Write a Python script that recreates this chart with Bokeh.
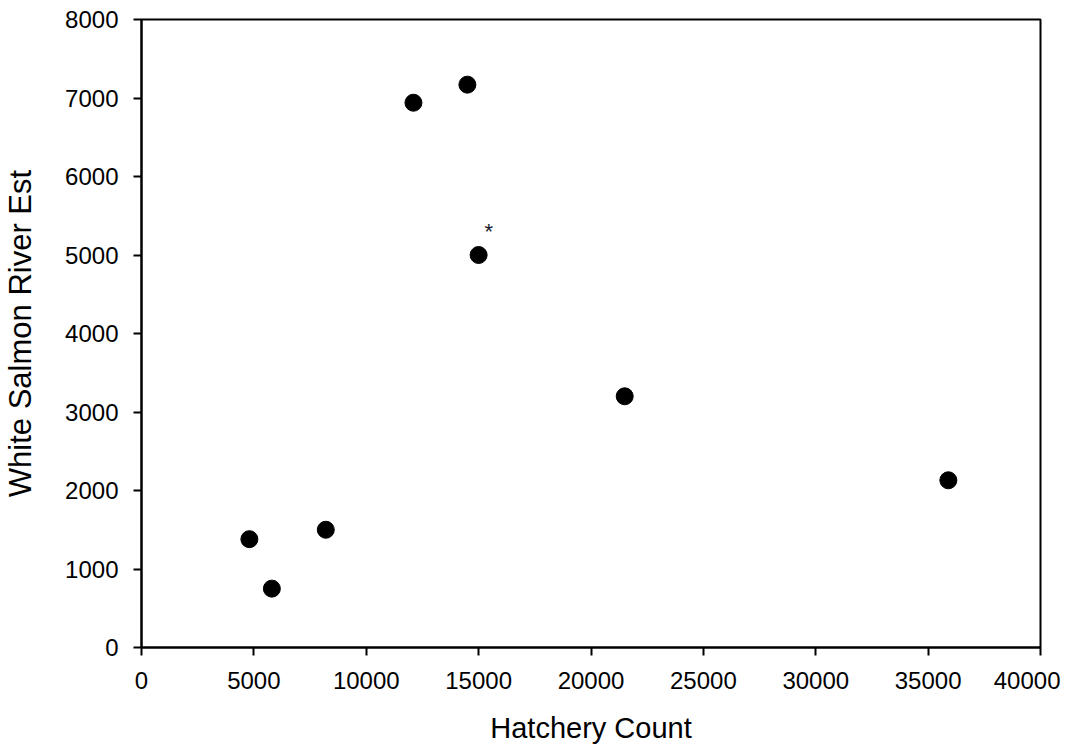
from bokeh.plotting import figure
from bokeh.models import ColumnDataSource, FixedTicker, Range1d
from bokeh.core.properties import value
from bokeh.embed import file_html
from bokeh.resources import INLINE

# Data
hatchery_count = [4800, 5800, 8200, 12100, 14500, 15000, 21500, 35900]
white_salmon_est = [1380, 750, 1500, 6940, 7170, 5000, 3200, 2130]

note_x = [15450]
note_y = [5300]
note_text = ["*"]

x_ticks = [0, 5000, 10000, 15000, 20000, 25000, 30000, 35000, 40000]
y_ticks = [0, 1000, 2000, 3000, 4000, 5000, 6000, 7000, 8000]

FONT = "Liberation Sans"

p = figure(width=1060, height=748, output_backend="svg", toolbar_location=None,
           x_range=Range1d(0, 40000), y_range=Range1d(0, 8000))
p.min_border_left = 140
p.min_border_right = 20
p.min_border_top = 19
p.min_border_bottom = 101

src = ColumnDataSource(dict(x=hatchery_count, y=white_salmon_est))
p.scatter("x", "y", source=src, size=17, color="black")

p.text(x=note_x, y=note_y, text=note_text, text_font=value(FONT), text_font_size="22px",
       text_align="center", text_baseline="middle", text_color="#1a1a2e")

p.xgrid.visible = False
p.ygrid.visible = False
p.outline_line_color = "black"
p.outline_line_width = 2
p.background_fill_color = "white"
p.border_fill_color = "white"

p.xaxis.ticker = FixedTicker(ticks=x_ticks)
p.yaxis.ticker = FixedTicker(ticks=y_ticks)

for ax in (p.xaxis, p.yaxis):
    ax.axis_line_width = 2
    ax.axis_line_color = "black"
    ax.major_tick_line_color = "black"
    ax.major_tick_line_width = 2
    ax.major_tick_out = 8
    ax.major_tick_in = 0
    ax.minor_tick_line_color = None
    ax.major_label_text_font = FONT
    ax.major_label_text_font_size = "24px"
    ax.major_label_text_color = "black"
    ax.axis_label_text_font = FONT
    ax.axis_label_text_font_style = "normal"
    ax.axis_label_text_color = "black"

p.xaxis.axis_label = "Hatchery Count"
p.yaxis.axis_label = "White Salmon River Est"
p.xaxis.axis_label_text_font_size = "29px"
p.yaxis.axis_label_text_font_size = "31px"
p.xaxis.major_label_standoff = 16
p.yaxis.major_label_standoff = 15
p.xaxis.axis_label_standoff = 20
p.yaxis.axis_label_standoff = 24

open("out.html", "w").write(file_html(p, INLINE))
